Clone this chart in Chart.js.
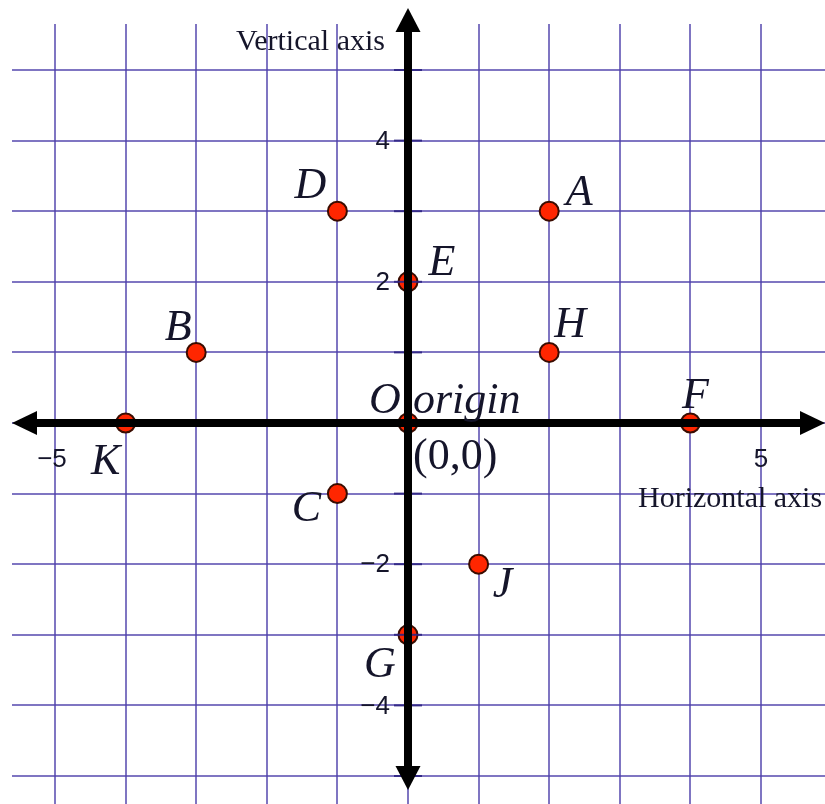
<!DOCTYPE html>
<html>
<head>
<meta charset="utf-8">
<title>Points on the coordinate plane</title>
<script src="https://cdn.jsdelivr.net/npm/chart.js@4.4.1/dist/chart.umd.min.js"></script>
<style>
    html, body { margin: 0; padding: 0; background: #ffffff; }
    #plane { display: block; }
</style>
</head>
<body>
<canvas id="plane" width="825" height="804"></canvas>
<script>
// Points on the plane (name, x, y)
const pointNames = ['A', 'B', 'C', 'D', 'E', 'F', 'G', 'H', 'J', 'K', 'O'];
const pointX = [2, -3, -1, -1, 0, 4, 0, 2, 1, -4, 0];
const pointY = [3, 1, -1, 3, 2, 0, -3, 1, -2, 0, 0];

// Numbers written beside the axes
const xTickLabels = [-5, 5];
const yTickLabels = [4, 2, -2, -4];

// Axis captions
const xAxisTitle = 'Horizontal axis';
const yAxisTitle = 'Vertical axis';
const originWord = 'origin';
const originCoords = '(0,0)';

// Where the letter sits relative to its point, in pixels (center x, baseline y)
const labelOffsets = {
    A: [30, -6], B: [-18, -12], C: [-31, 27], D: [-27, -13], E: [34, -7],
    F: [5, -15], G: [-28, 42], H: [21, -15], J: [24, 33], K: [-20, 51], O: [-23, -10]
};

// Layout of the plane: where (0,0) lands and how big one unit is
const originPx = { x: 408, y: 423 };
const unitPx = 70.6;
const area = { left: 12, top: 24, right: 825, bottom: 804 };

const gridColor = 'rgba(78, 64, 170, 0.72)';
const tickColor = 'rgba(45, 35, 130, 0.9)';
const textColor = '#15152a';

function toMinus(v) {
    return v < 0 ? '\u2212' + Math.abs(v) : String(v);
}

// Only keep whole-number grid lines
function integerTicks(scale) {
    const ticks = [];
    for (let v = Math.ceil(scale.min); v <= Math.floor(scale.max); v++) {
        ticks.push({ value: v });
    }
    scale.ticks = ticks;
}

// Draw a thick black axis with an arrow on each end
function drawArrowLine(ctx, x1, y1, x2, y2, head, half) {
    const ang = Math.atan2(y2 - y1, x2 - x1);
    const cos = Math.cos(ang), sin = Math.sin(ang);

    ctx.save();
    ctx.strokeStyle = '#000';
    ctx.fillStyle = '#000';
    ctx.lineWidth = 8;
    ctx.beginPath();
    ctx.moveTo(x1 + cos * head, y1 + sin * head);
    ctx.lineTo(x2 - cos * head, y2 - sin * head);
    ctx.stroke();

    [[x2, y2, 1], [x1, y1, -1]].forEach(function(end) {
        const tx = end[0], ty = end[1], d = end[2];
        const bx = tx - d * cos * head, by = ty - d * sin * head;
        ctx.beginPath();
        ctx.moveTo(tx, ty);
        ctx.lineTo(bx - sin * half, by + cos * half);
        ctx.lineTo(bx + sin * half, by - cos * half);
        ctx.closePath();
        ctx.fill();
    });
    ctx.restore();
}

// Axes, arrows, tick marks and all the writing
const planeDecor = {
    id: 'planeDecor',
    afterDatasetsDraw: function(chart) {
        const ctx = chart.ctx;
        const xs = chart.scales.x;
        const ys = chart.scales.y;
        const x0 = xs.getPixelForValue(0);
        const y0 = ys.getPixelForValue(0);

        // little marks where the grid lines cross the vertical axis
        ctx.save();
        ctx.strokeStyle = tickColor;
        ctx.lineWidth = 2;
        ys.ticks.forEach(function(t) {
            if (t.value === 0) return;
            const py = ys.getPixelForValue(t.value);
            ctx.beginPath();
            ctx.moveTo(x0 - 14, py);
            ctx.lineTo(x0 + 14, py);
            ctx.stroke();
        });
        ctx.restore();

        drawArrowLine(ctx, 12, y0, 825, y0, 25, 12);
        drawArrowLine(ctx, x0, 8, x0, 790, 24, 12.5);

        ctx.save();
        ctx.fillStyle = textColor;

        // numbers on the axes
        ctx.font = '26px "Liberation Sans", Arial, sans-serif';
        ctx.textBaseline = 'middle';
        ctx.textAlign = 'right';
        yTickLabels.forEach(function(v) {
            ctx.fillText(toMinus(v), x0 - 18, ys.getPixelForValue(v) + 1);
        });
        ctx.textAlign = 'center';
        xTickLabels.forEach(function(v) {
            ctx.fillText(toMinus(v), xs.getPixelForValue(v) - (v < 0 ? 3 : 0), y0 + 37);
        });

        // axis captions
        ctx.font = '30px "Liberation Serif", "Times New Roman", serif';
        ctx.textBaseline = 'alphabetic';
        ctx.textAlign = 'right';
        ctx.fillText(yAxisTitle, x0 - 23, 50);
        ctx.textAlign = 'left';
        ctx.fillText(xAxisTitle, 638, y0 + 84);

        // point names
        ctx.font = 'italic 44px "Liberation Serif", "Times New Roman", serif';
        ctx.textAlign = 'center';
        pointNames.forEach(function(name, i) {
            const off = labelOffsets[name];
            const px = xs.getPixelForValue(pointX[i]);
            const py = ys.getPixelForValue(pointY[i]);
            ctx.fillText(name, px + off[0], py + off[1]);
        });
        ctx.textAlign = 'left';
        ctx.fillText(originWord, x0 + 5, y0 - 10);

        ctx.font = '44px "Liberation Serif", "Times New Roman", serif';
        ctx.fillText(originCoords, x0 + 5, y0 + 46);
        ctx.restore();
    }
};

function buildPlane() {
    const ctx = document.getElementById('plane').getContext('2d');
    const points = pointX.map(function(x, i) {
        return { x: x, y: pointY[i] };
    });

    const axisOptions = function(min, max) {
        return {
            type: 'linear',
            min: min,
            max: max,
            afterBuildTicks: integerTicks,
            border: { display: false },
            grid: {
                color: gridColor,
                lineWidth: 2,
                drawTicks: false
            },
            ticks: { display: false }
        };
    };

    new Chart(ctx, {
        type: 'scatter',
        data: {
            datasets: [{
                label: 'Points',
                data: points,
                backgroundColor: '#ff2600',
                borderColor: '#3a0c00',
                borderWidth: 2,
                pointRadius: 9.5,
                pointHoverRadius: 9.5
            }]
        },
        options: {
            responsive: false,
            animation: false,
            layout: {
                autoPadding: false,
                padding: { left: area.left, top: area.top, right: 0, bottom: 0 }
            },
            plugins: {
                legend: { display: false },
                tooltip: { enabled: false }
            },
            scales: {
                x: axisOptions((area.left - originPx.x) / unitPx, (area.right - originPx.x) / unitPx),
                y: axisOptions((originPx.y - area.bottom) / unitPx, (originPx.y - area.top) / unitPx)
            }
        },
        plugins: [planeDecor]
    });
}

document.addEventListener('DOMContentLoaded', buildPlane);
</script>
</body>
</html>
